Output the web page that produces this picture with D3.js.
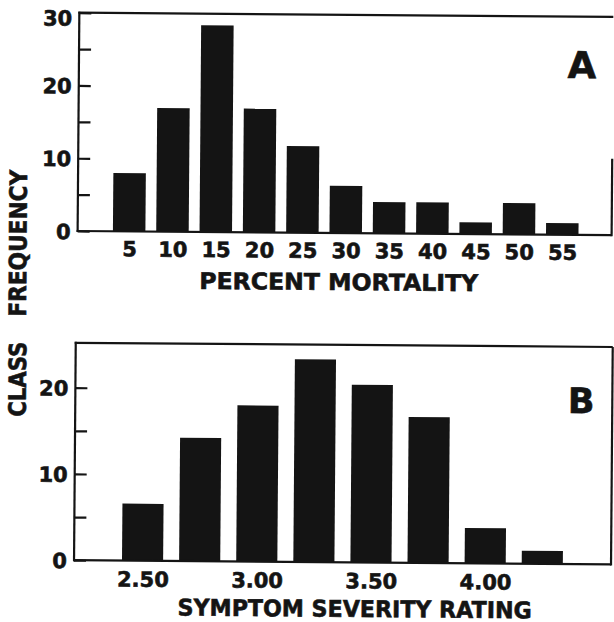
<!DOCTYPE html>
<html>
<head>
<meta charset="utf-8">
<script src="https://cdn.jsdelivr.net/npm/d3@7"></script>
<style>
  html, body { margin: 0; padding: 0; background: #fff; }
  svg { display: block; }
  text { font-family: "DejaVu Sans", "Liberation Sans", sans-serif; font-weight: bold; fill: #141414; stroke: #141414; stroke-width: 0.6px; }
</style>
</head>
<body>
<svg id="chart" width="614" height="622"></svg>
<script>
// ---------- data ----------
const mortalityClasses = [5, 10, 15, 20, 25, 30, 35, 40, 45, 50, 55];
const mortalityFrequency = [8, 17, 28.4, 17, 11.9, 6.5, 4.3, 4.3, 1.6, 4.3, 1.6];
const mortalityTickLabels = [5, 10, 15, 20, 25, 30, 35, 40, 45, 50, 55];
const frequencyTicksA = [0, 10, 20, 30];
const frequencyMinorTicksA = [5, 15, 25];

const severityClasses = [2.50, 2.75, 3.00, 3.25, 3.50, 3.75, 4.00, 4.25];
const severityFrequency = [6.6, 14.3, 18.1, 23.5, 20.6, 16.9, 4.1, 1.5];
const severityTickLabels = [2.50, 3.00, 3.50, 4.00];
const frequencyTicksB = [0, 10, 20];
const frequencyMinorTicksB = [5, 15];

const panelLetters = ["A", "B"];
const xTitles = ["PERCENT MORTALITY", "SYMPTOM SEVERITY RATING"];
const yTitleWords = ["CLASS", "FREQUENCY"];

// ---------- drawing ----------
const svg = d3.select("#chart");
svg.append("rect").attr("width", 614).attr("height", 622).attr("fill", "#fff");
const root = svg.append("g").attr("transform", "rotate(0.45,307,311)");
const ink = "#141414";

function panel(cfg) {
  const g = root.append("g");
  const x = d3.scaleLinear().domain(cfg.xDomain).range([cfg.left, cfg.right]);
  const y = d3.scaleLinear().domain(cfg.yDomain).range([cfg.bottom, cfg.top]);

  // bars
  g.selectAll("rect.bar").data(cfg.classes.map((c, i) => ({ c, v: cfg.values[i] })))
    .enter().append("rect").attr("class", "bar")
    .attr("x", d => x(d.c - cfg.barWidth / 2))
    .attr("width", d => x(d.c + cfg.barWidth / 2) - x(d.c - cfg.barWidth / 2))
    .attr("y", d => y(d.v))
    .attr("height", d => y(0) - y(d.v))
    .attr("fill", ink);

  // frame
  const frame = g.append("g").attr("stroke", ink).attr("stroke-width", 2.2).attr("fill", "none");
  frame.append("line").attr("x1", cfg.left).attr("x2", cfg.left).attr("y1", cfg.top - 1).attr("y2", y(0) + 1);
  frame.append("line").attr("x1", cfg.left - 1).attr("x2", cfg.right).attr("y1", cfg.top).attr("y2", cfg.top);
  frame.append("line").attr("x1", cfg.left - 1).attr("x2", cfg.right).attr("y1", y(0)).attr("y2", y(0));
  frame.append("line").attr("x1", cfg.right).attr("x2", cfg.right)
    .attr("y1", cfg.rightFrom != null ? y(cfg.rightFrom) : cfg.top).attr("y2", y(0) + 1);

  // y axis major
  const ya = g.append("g").attr("transform", `translate(${cfg.left},0)`)
    .call(d3.axisLeft(y).tickValues(cfg.yTicks).tickSizeInner(-12).tickSizeOuter(0).tickPadding(7).tickFormat(d3.format("d")));
  ya.select(".domain").remove();
  ya.selectAll("line").attr("stroke", ink).attr("stroke-width", 2.2);
  ya.selectAll("text").attr("font-size", 21).attr("font-family", null).attr("fill", null).attr("dy", "0.36em")
    .attr("transform", d => d === 30 ? "translate(0,5)" : null);
  // y axis minor
  const ym = g.append("g").attr("transform", `translate(${cfg.left},0)`)
    .call(d3.axisLeft(y).tickValues(cfg.yMinor).tickSizeInner(-12).tickSizeOuter(0).tickFormat(""));
  ym.select(".domain").remove();
  ym.selectAll("line").attr("stroke", ink).attr("stroke-width", 2.2);

  // x axis labels
  const xa = g.append("g").attr("transform", `translate(0,${y(0)})`)
    .call(d3.axisBottom(x).tickValues(cfg.xTicks).tickSize(0).tickPadding(0).tickFormat(cfg.xFormat));
  xa.select(".domain").remove();
  xa.selectAll("text").attr("font-size", 21).attr("font-family", null).attr("fill", null).attr("dy", null).attr("y", cfg.xLabelOffset);

  // x title
  g.append("text").attr("x", cfg.titleX).attr("y", cfg.titleY).attr("text-anchor", "middle")
    .attr("font-size", 23).attr("textLength", cfg.titleLen).attr("lengthAdjust", "spacingAndGlyphs")
    .text(cfg.title);

  // panel letter
  g.append("text").attr("x", cfg.letterX).attr("y", cfg.letterY).attr("text-anchor", "middle")
    .attr("font-size", cfg.letterSize).text(cfg.letter);
}

panel({
  classes: mortalityClasses, values: mortalityFrequency, barWidth: 3.75,
  xDomain: [-0.95, 60.7], yDomain: [0, 30],
  left: 77, right: 611, top: 14.5, bottom: 232.8, rightFrom: 10.5,
  yTicks: frequencyTicksA, yMinor: frequencyMinorTicksA,
  xTicks: mortalityTickLabels, xFormat: d3.format("d"), xLabelOffset: 25,
  title: xTitles[0], titleX: 338.5, titleY: 289.8, titleLen: 279,
  letter: panelLetters[0], letterX: 580, letterY: 76, letterSize: 37
});

panel({
  classes: severityClasses, values: severityFrequency, barWidth: 0.18,
  xDomain: [2.2, 4.551], yDomain: [0, 25.2],
  left: 76, right: 613, top: 344.6, bottom: 562,
  yTicks: frequencyTicksB, yMinor: frequencyMinorTicksB,
  xTicks: severityTickLabels, xFormat: d3.format(".2f"), xLabelOffset: 26,
  title: xTitles[1], titleX: 357, titleY: 616.5, titleLen: 354,
  letter: panelLetters[1], letterX: 582, letterY: 411, letterSize: 35
});

// shared y title (rotated)
const yTitle = root.append("g");
yTitle.append("text").attr("transform", "translate(26.5,381.5) rotate(-90)")
  .attr("text-anchor", "middle").attr("font-size", 24)
  .attr("textLength", 75).attr("lengthAdjust", "spacingAndGlyphs").text(yTitleWords[0]);
yTitle.append("text").attr("transform", "translate(26,245.5) rotate(-90)")
  .attr("text-anchor", "middle").attr("font-size", 24)
  .attr("textLength", 147).attr("lengthAdjust", "spacingAndGlyphs").text(yTitleWords[1]);
</script>
</body>
</html>
